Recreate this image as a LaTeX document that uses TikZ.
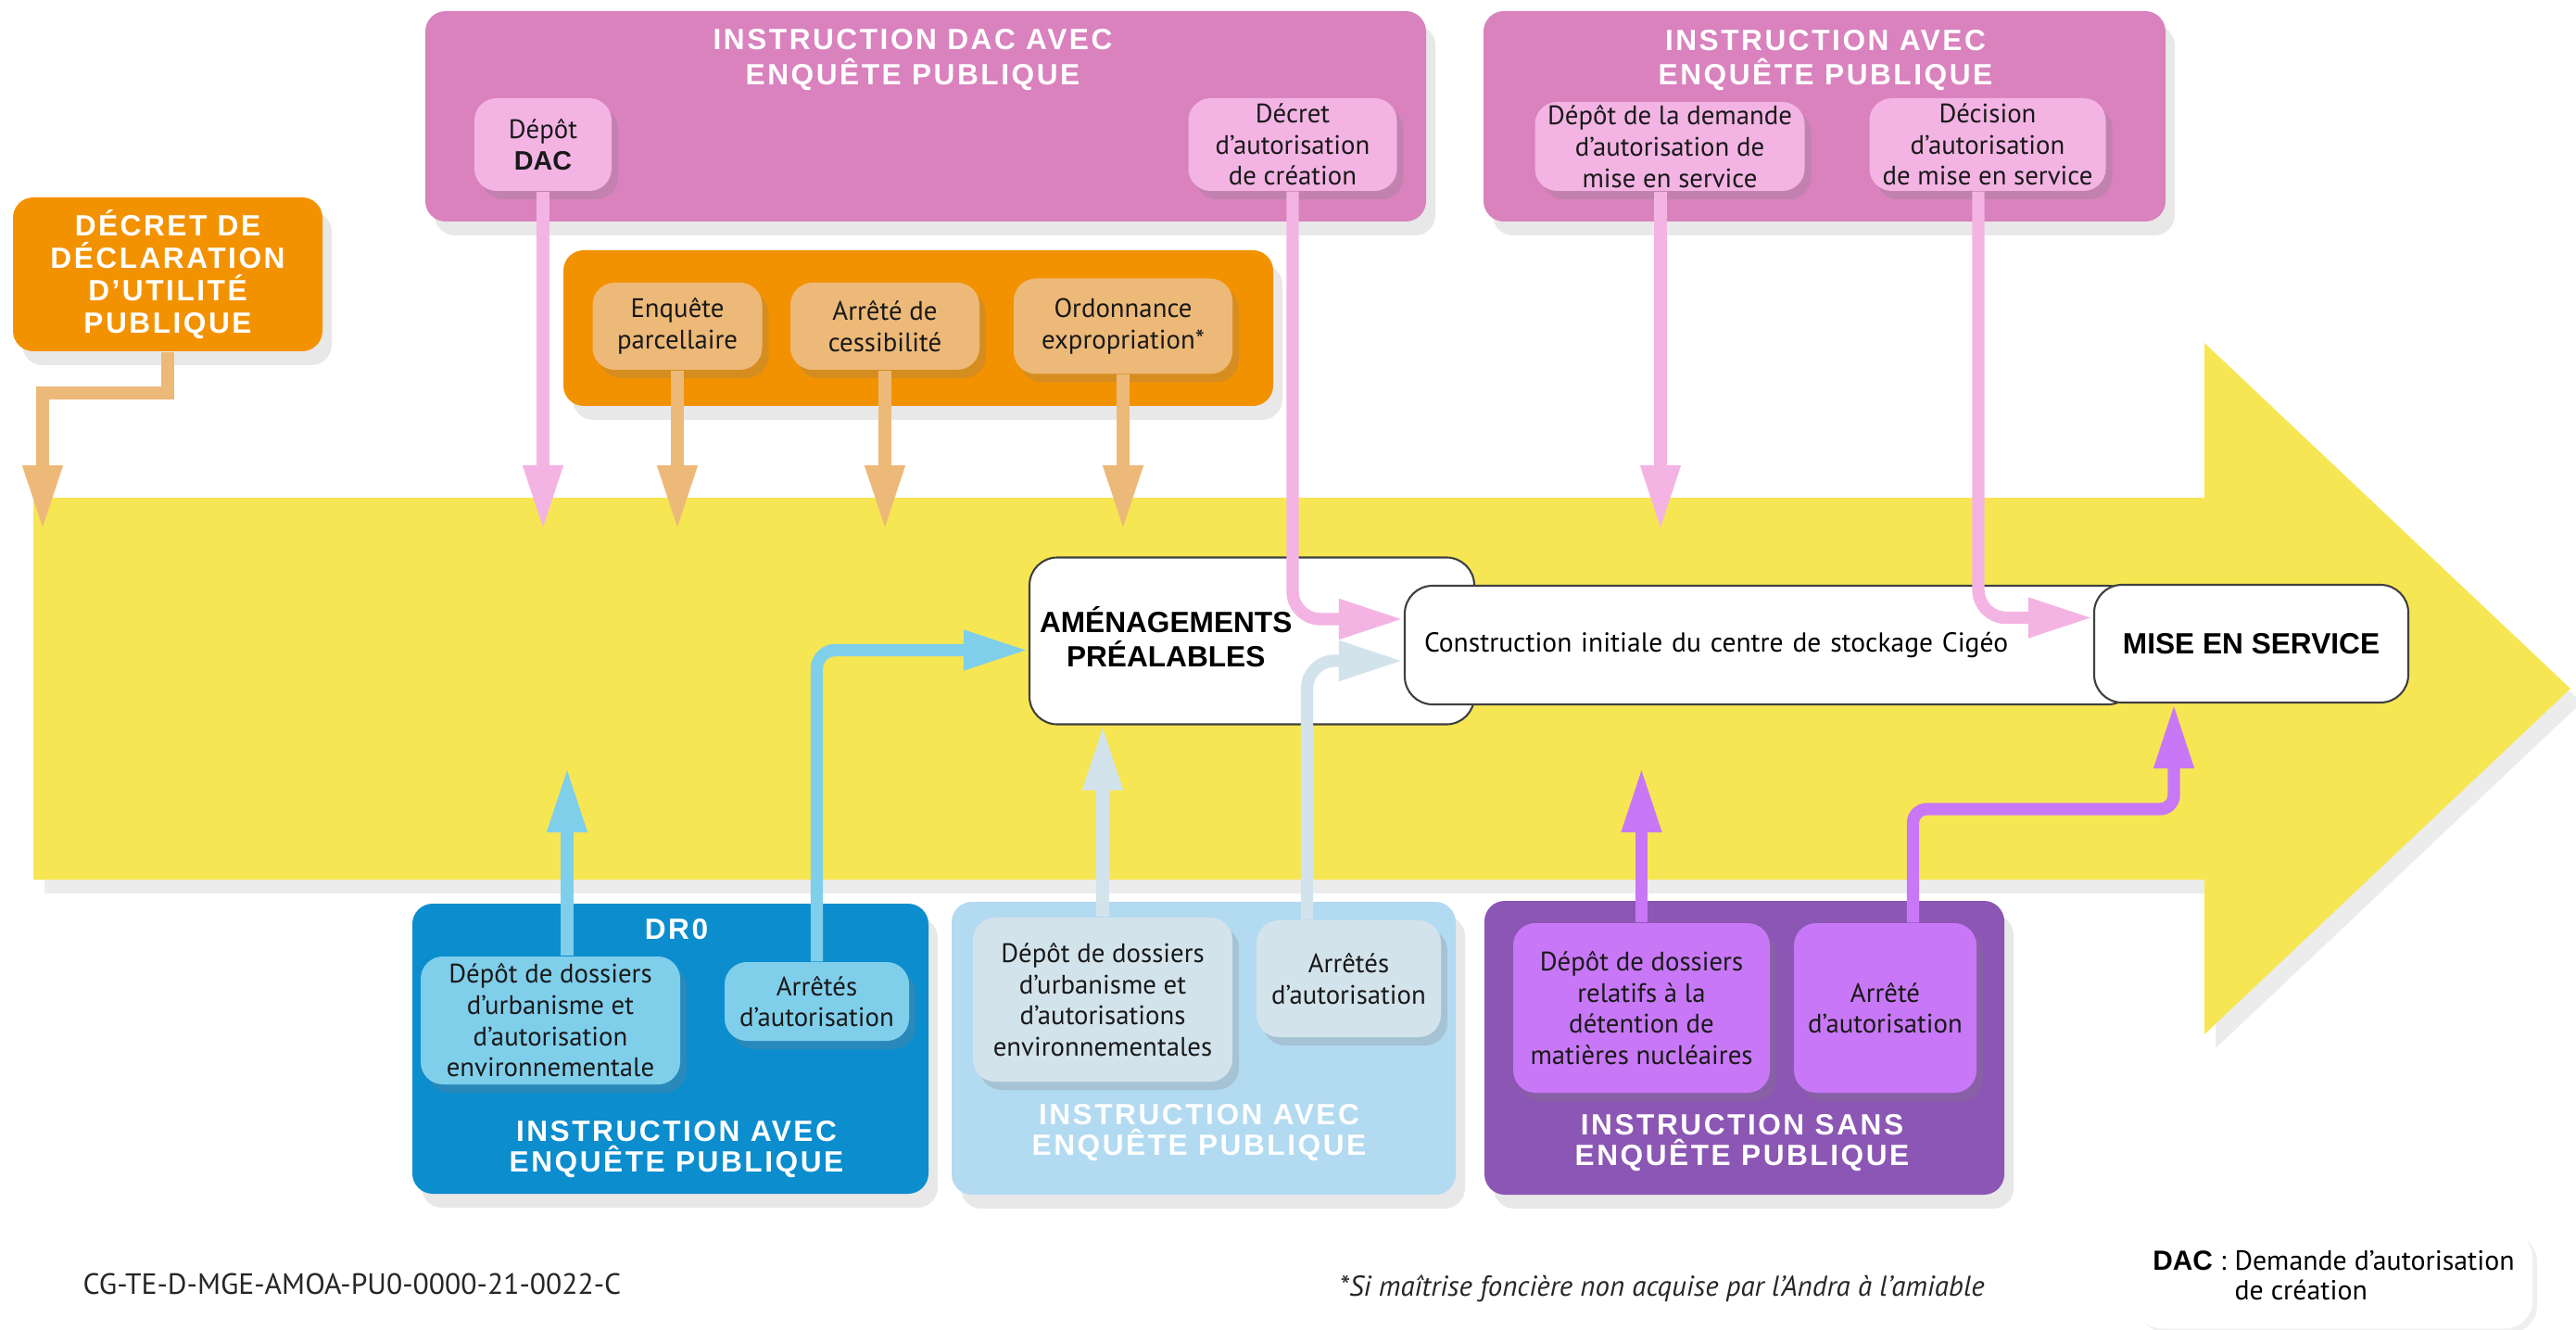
\documentclass[tikz,border=0pt]{standalone}
\usepackage{fontspec}
\setmainfont{PT Sans}
\newfontfamily\headfont{Liberation Sans}
\newfontfamily\titlefont{Liberation Sans}[LetterSpace=8]
\usepackage{tikz}
\usetikzlibrary{arrows.meta,shadows}
\definecolor{sunyellow}{RGB}{247,230,84}
\definecolor{dorange}{RGB}{243,146,0}
\definecolor{lorange}{RGB}{237,185,120}
\definecolor{dpink}{RGB}{217,130,190}
\definecolor{lpink}{RGB}{243,180,228}
\definecolor{dblue}{RGB}{11,141,206}
\definecolor{lblue}{RGB}{127,207,235}
\definecolor{pblue}{RGB}{178,218,241}
\definecolor{gblue}{RGB}{211,227,236}
\definecolor{dpurple}{RGB}{140,86,180}
\definecolor{lpurple}{RGB}{200,120,246}

\begin{document}
\begin{tikzpicture}[
    bigbox/.style={rectangle, rounded corners=2.2mm, inner sep=0pt,
      drop shadow={opacity=0.18, shadow xshift=1mm, shadow yshift=-1.5mm}},
    subbox/.style={rectangle, rounded corners=2.4mm, align=center, inner sep=0.5pt,
      text=black!90, font=\fontsize{8.2}{9.6}\selectfont,
      drop shadow={opacity=0.25, shadow xshift=0.7mm, shadow yshift=-0.9mm}},
    boxtitle/.style={align=center, text=white, inner sep=0pt,
      font=\titlefont\bfseries\fontsize{9}{9.2}\selectfont},
    toptitle/.style={boxtitle, font=\titlefont\bfseries\fontsize{9}{10.6}\selectfont},
    stage/.style={rectangle, draw=black!75, line width=0.6pt, fill=white, rounded corners=3mm},
    flow/.style={line width=3.8pt, -{Triangle[width=4mm,length=7mm]}}
  ]
    \fill[white] (0,0) rectangle (27.8,-14.35);
    \useasboundingbox (0,0) rectangle (27.8,-14.35);
    % Define points
    \coordinate (ytop) at (0,-5.72);
    \coordinate (ybot) at (0,-8.28);
    \coordinate (dupk) at (0.46,-4.24);
    \coordinate (nuck) at (23.46,-8.73);
    % Main arrow
    \fill[sunyellow, drop shadow={opacity=0.15, shadow xshift=1.2mm, shadow yshift=-1.5mm}]
      (0.36,-5.37) -- (23.79,-5.37) -- (23.79,-3.70) -- (27.74,-7.43)
      -- (23.79,-11.16) -- (23.79,-9.49) -- (0.36,-9.49) -- cycle;

    % Top boxes
    \node[bigbox, fill=dorange, minimum width=3.34cm, minimum height=1.66cm, align=center,
      text=white, font=\titlefont\bfseries\fontsize{9}{10}\selectfont] (dup) at (1.81,-2.96)
      {DÉCRET DE\\DÉCLARATION\\D’UTILITÉ\\PUBLIQUE};
    \node[bigbox, fill=dpink, minimum width=10.8cm, minimum height=2.27cm] (dac) at (9.99,-1.255) {};
    \node[toptitle] (dactitle) at (9.85,-0.645) {INSTRUCTION DAC AVEC\\ENQUÊTE PUBLIQUE};
    \node[subbox, fill=lpink, minimum width=1.48cm, minimum height=1.0cm] (dacdep) at (5.86,-1.56)
      {Dépôt\\{\headfont\bfseries DAC}};
    \node[subbox, fill=lpink, minimum width=2.25cm, minimum height=1.0cm] (dacdec) at (13.95,-1.56)
      {Décret\\d’autorisation\\de création};
    \node[bigbox, fill=dpink, minimum width=7.36cm, minimum height=2.27cm] (msv) at (19.69,-1.255) {};
    \node[toptitle] (msvtitle) at (19.70,-0.65) {INSTRUCTION AVEC\\ENQUÊTE PUBLIQUE};
    \node[subbox, fill=lpink, minimum width=2.91cm, minimum height=0.96cm] (msvdep) at (18.02,-1.58)
      {Dépôt de la demande\\d’autorisation de\\mise en service};
    \node[subbox, fill=lpink, minimum width=2.55cm, minimum height=1.0cm] (msvdec) at (21.45,-1.56)
      {Décision\\d’autorisation\\de mise en service};
    % Expropriation
    \node[bigbox, fill=dorange, minimum width=7.66cm, minimum height=1.68cm] (expro) at (9.91,-3.54) {};
    \node[subbox, fill=lorange, minimum width=1.83cm, minimum height=0.94cm] (enqp) at (7.31,-3.52)
      {Enquête\\parcellaire};
    \node[subbox, fill=lorange, minimum width=2.04cm, minimum height=0.94cm] (cess) at (9.55,-3.52)
      {Arrêté de\\cessibilité};
    \node[subbox, fill=lorange, minimum width=2.36cm, minimum height=1.03cm] (ordo) at (12.12,-3.52)
      {Ordonnance\\expropriation*};

    % Stages on the arrow
    \node[stage, text width=4.58cm, minimum height=1.8cm, inner xsep=1.1mm, align=left,
      font=\headfont\bfseries\fontsize{9}{9}\selectfont] (amenag) at (13.51,-6.915)
      {\noindent\begin{tabular}{@{}c@{}}AMÉNAGEMENTS\\PRÉALABLES\end{tabular}};
    \node[stage, text width=7.47cm, minimum height=1.28cm, inner xsep=2.1mm, align=left,
      font=\fontsize{8.4}{9.6}\selectfont] (constr) at (19.105,-6.96)
      {Construction initiale du centre de stockage Cigéo};
    \node[stage, minimum width=3.39cm, minimum height=1.27cm,
      font=\headfont\bfseries\fontsize{9}{9}\selectfont] (mes) at (24.295,-6.945) {MISE EN SERVICE};

    % Bottom boxes
    \node[bigbox, fill=dblue, minimum width=5.57cm, minimum height=3.13cm] (dro) at (7.235,-11.315) {};
    \node[boxtitle] (drotitle) at (7.30,-10.03) {DR0};
    \node[boxtitle] (droinstr) at (7.30,-12.40) {INSTRUCTION AVEC\\ENQUÊTE PUBLIQUE};
    \node[subbox, fill=lblue, minimum width=2.8cm, minimum height=1.38cm] (drodep) at (5.94,-11.01)
      {Dépôt de dossiers\\d’urbanisme et\\d’autorisation\\environnementale};
    \node[subbox, fill=lblue, minimum width=1.99cm, minimum height=0.85cm] (droarr) at (8.815,-10.805)
      {Arrêtés\\d’autorisation};
    \node[bigbox, fill=pblue, minimum width=5.44cm, minimum height=3.16cm] (env) at (12.99,-11.31) {};
    \node[boxtitle] (envinstr) at (12.94,-12.22) {INSTRUCTION AVEC\\ENQUÊTE PUBLIQUE};
    \node[subbox, fill=gblue, minimum width=2.8cm, minimum height=1.77cm] (envdep) at (11.9,-10.785)
      {Dépôt de dossiers\\d’urbanisme et\\d’autorisations\\environnementales};
    \node[subbox, fill=gblue, minimum width=1.99cm, minimum height=1.26cm] (envarr) at (14.555,-10.56)
      {Arrêtés\\d’autorisation};
    \node[bigbox, fill=dpurple, minimum width=5.61cm, minimum height=3.17cm] (nuc) at (18.825,-11.305) {};
    \node[boxtitle] (nucinstr) at (18.80,-12.33) {INSTRUCTION SANS\\ENQUÊTE PUBLIQUE};
    \node[subbox, fill=lpurple, minimum width=2.77cm, minimum height=1.83cm] (nucdep) at (17.715,-10.875)
      {Dépôt de dossiers\\relatifs à la\\détention de\\matières nucléaires};
    \node[subbox, fill=lpurple, minimum width=1.97cm, minimum height=1.83cm] (nucarr) at (20.345,-10.875)
      {Arrêté\\d’autorisation};

    % Arrows from above
    \draw[flow, lorange] (dup.south) |- (dupk) -- (dupk |- ytop);
    \draw[flow, lpink] (dacdep.south) -- (dacdep.south |- ytop);
    \foreach \n in {enqp, cess, ordo}
      \draw[flow, lorange] (\n.south) -- (\n.south |- ytop);
    \draw[flow, lpink, rounded corners=3mm] (dacdec.south) |- ([yshift=2.8mm]constr.west);
    \draw[flow, lpink] ([xshift=-1mm]msvdep.south) -- ([xshift=-1mm]msvdep.south |- ytop);
    \draw[flow, lpink, rounded corners=3mm] ([xshift=-1mm]msvdec.south) |- ([yshift=2.8mm]mes.west);
    % Arrows from below
    \draw[flow, lblue] ([xshift=1.8mm]drodep.north) -- ([xshift=1.8mm]drodep.north |- ybot);
    \draw[flow, lblue, rounded corners=2mm] (droarr.north) |- ([yshift=-1mm]amenag.west);
    \draw[flow, gblue] (envdep.north) -- (envdep.north |- amenag.south);
    \draw[flow, gblue, rounded corners=3mm] ([xshift=-4.5mm]envarr.north) |- ([yshift=-1.7mm]constr.west);
    \draw[flow, lpurple] (nucdep.north) -- (nucdep.north |- ybot);
    \draw[flow, lpurple, rounded corners=1.5mm] ([xshift=3mm]nucarr.north) |- (nuck) -- (nuck |- mes.south);

    % Footer
    \node[anchor=west, inner sep=0pt, text=black!85, font=\fontsize{9}{9}\selectfont] (docref)
      at (0.89,-13.85) {CG-TE-D-MGE-AMOA-PU0-0000-21-0022-C};
    \node[anchor=west, inner sep=0pt, text=black!85, font=\itshape\fontsize{8.8}{8.8}\selectfont] (note)
      at (14.45,-13.90) {*Si maîtrise foncière non acquise par l’Andra à l’amiable};
    \node[rectangle, fill=white, rounded corners=3mm, minimum width=4.29cm, minimum height=1.07cm,
      drop shadow={opacity=0.12, shadow xshift=0.5mm, shadow yshift=-0.5mm},
      font=\fontsize{8.5}{9.2}\selectfont] (legend) at (25.185,-13.80)
      {\begin{tabular}{@{}l@{\hspace{0.3em}}l@{}}{\headfont\bfseries DAC} : & Demande d’autorisation\\ & de création\end{tabular}};
\end{tikzpicture}
\end{document}
